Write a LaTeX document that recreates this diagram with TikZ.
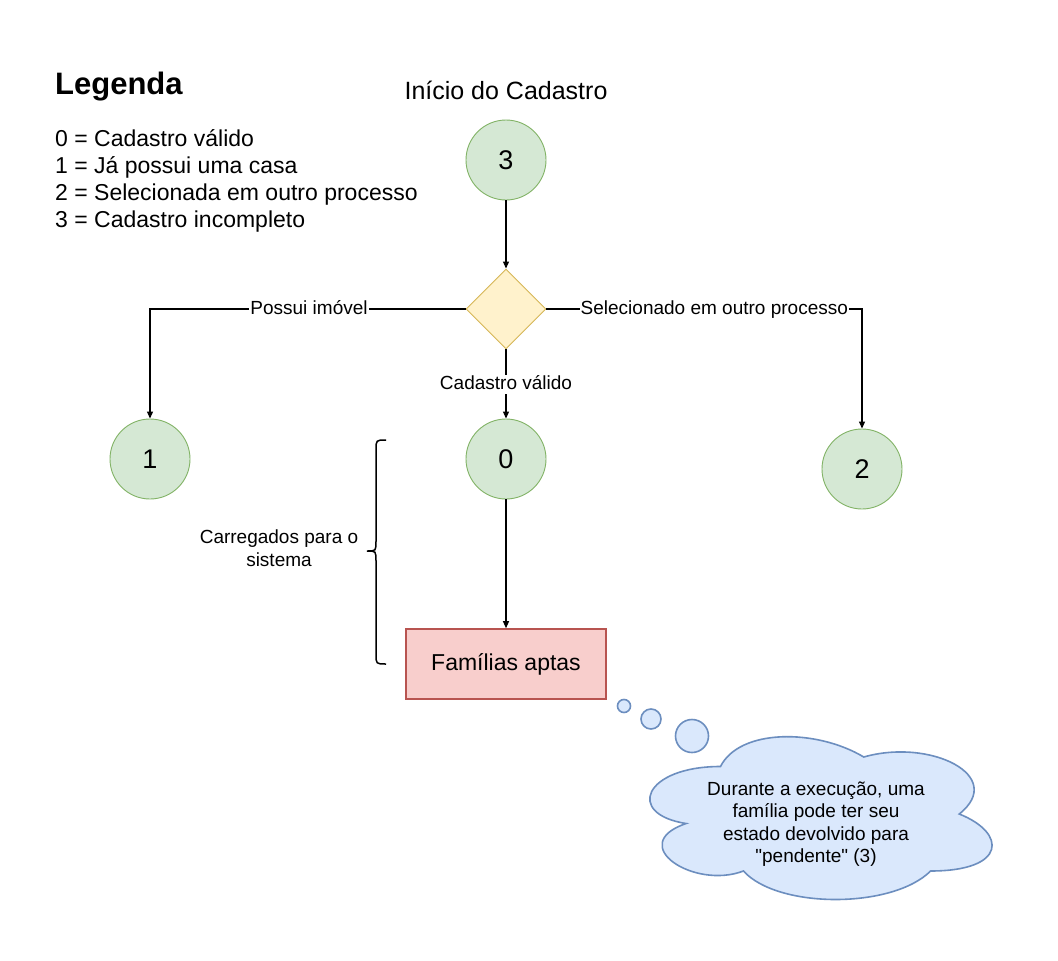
\documentclass[tikz,border=0pt]{standalone}
\usepackage{fontspec}
\setmainfont{Liberation Sans}[Ligatures=TeXOff]
\usetikzlibrary{shapes.geometric,arrows.meta}
\definecolor{gfill}{HTML}{D5E8D4}
\definecolor{gdraw}{HTML}{82B366}
\definecolor{yfill}{HTML}{FFF2CC}
\definecolor{ydraw}{HTML}{D6B656}
\definecolor{rfill}{HTML}{F8CECC}
\definecolor{rdraw}{HTML}{B85450}
\definecolor{bfill}{HTML}{DAE8FC}
\definecolor{bdraw}{HTML}{6C8EBF}
\tikzset{
  state/.style={circle,fill=gfill,draw=gdraw,line width=0.9pt,minimum size=80pt,inner sep=0pt,font=\fontsize{27}{32}\selectfont},
  decision/.style={diamond,fill=yfill,draw=ydraw,line width=0.9pt,minimum width=80pt,minimum height=80pt,inner sep=0pt},
  result/.style={rectangle,fill=rfill,draw=rdraw,line width=1.6pt,minimum width=200pt,minimum height=70pt,inner sep=0pt,font=\fontsize{23}{27}\selectfont},
  conn/.style={line width=1.1pt,-{Triangle[length=7pt,width=6pt]}},
  elabel/.style={fill=white,inner sep=1pt,text height=13.6pt,text depth=3.4pt,font=\fontsize{19}{22.5}\selectfont},
  legline/.style={anchor=base west,inner sep=0pt,font=\fontsize{23}{27}\selectfont},
  bubble/.style={circle,fill=bfill,draw=bdraw,line width=1.6pt,inner sep=0pt},
}
\begin{document}
\begin{tikzpicture}[x=1pt,y=-1pt]
\useasboundingbox (0,0) rectangle (1058,961);
\fill[white] (0,0) rectangle (1058,961);
% legend
\node[anchor=base west,inner sep=0pt,font=\bfseries\fontsize{31}{36}\selectfont] (leg) at (55,94) {Legenda};
\node[legline] (l0) at (55,146) {0 = Cadastro válido};
\node[legline] (l1) at (55,173) {1 = Já possui uma casa};
\node[legline] (l2) at (55,200) {2 = Selecionada em outro processo};
\node[legline] (l3) at (55,227) {3 = Cadastro incompleto};
% title
\node[font=\fontsize{25}{30}\selectfont,inner sep=0pt] (title) at (506,90) {Início do Cadastro};
% nodes
\node[state] (s3) at (506,160) {3};
\node[decision] (d) at (506,309) {};
\node[state] (s1) at (150,459) {1};
\node[state] (s0) at (506,459) {0};
\node[state] (s2) at (862,469) {2};
\node[result] (fa) at (506,664) {Famílias aptas};
% connectors
\draw[conn] (s3) -- (d);
\draw[conn] (d.west) -| node[elabel,pos=0.248] {Possui imóvel} (s1.north);
\draw[conn] (d.east) -| node[elabel,pos=0.266] {Selecionado em outro processo} (s2.north);
\draw[conn] (d.south) -- node[elabel,pos=0.5] {Cadastro válido} (s0.north);
\draw[conn] (s0) -- (fa);
% brace
\coordinate (bt) at (386,440);
\draw[line width=1.5pt] (bt) .. controls +(-10,0) .. ++(-10,10) -- ++(0,91) .. controls +(0,10) .. ++(-9,10)
  .. controls +(9,0) .. ++(9,10) -- ++(0,93) .. controls +(0,10) .. ++(10,10);
\node[align=center,font=\fontsize{19}{22.5}\selectfont,inner sep=0pt] (carr) at (279,548) {Carregados para o\\sistema};
% thought bubbles
\node[bubble,minimum size=13pt] (b1) at (624,706) {};
\node[bubble,minimum size=20pt] (b2) at (651,719) {};
\node[bubble,minimum size=33pt] (b3) at (692,736) {};
% cloud
\begin{scope}[shift={(625,719)},x=382pt,y=-190pt]
\draw[fill=bfill,draw=bdraw,line width=1.6pt]
  (0.25,0.25) .. controls (0.05,0.25) and (0,0.5) .. (0.16,0.55)
  .. controls (0,0.66) and (0.18,0.9) .. (0.31,0.8)
  .. controls (0.4,1) and (0.7,1) .. (0.8,0.8)
  .. controls (1,0.8) and (1,0.6) .. (0.875,0.5)
  .. controls (1,0.3) and (0.8,0.1) .. (0.625,0.2)
  .. controls (0.5,0.05) and (0.3,0.05) .. (0.25,0.25) -- cycle;
\end{scope}
\node[align=center,font=\fontsize{19}{22.4}\selectfont,inner sep=0pt] (ct) at (816,824) {Durante a execução, uma\\família pode ter seu\\estado devolvido para\\"pendente" (3)};
\end{tikzpicture}
\end{document}
